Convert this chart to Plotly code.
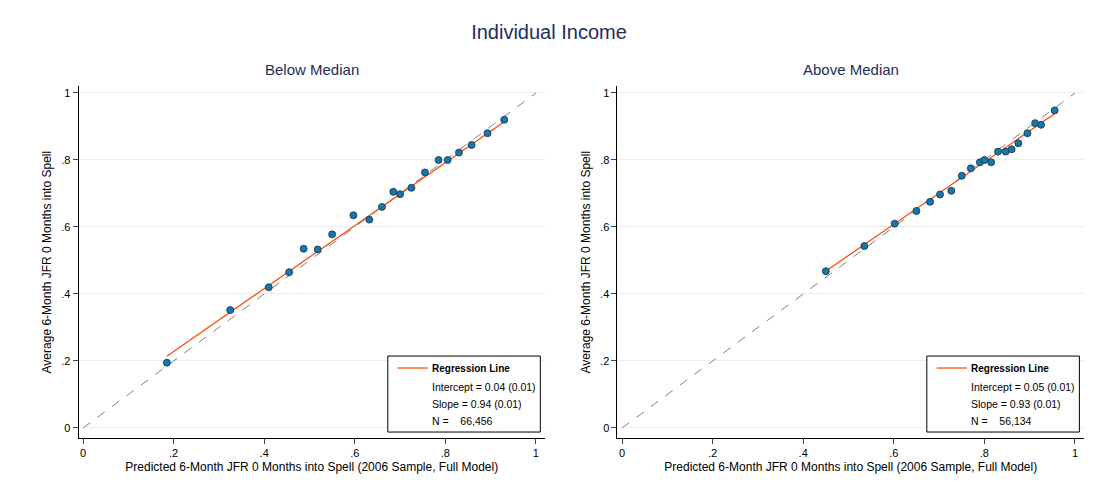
import plotly.graph_objects as go

below_x = [0.185, 0.325, 0.41, 0.455, 0.487, 0.518, 0.55, 0.597, 0.632, 0.66,
           0.685, 0.70, 0.725, 0.755, 0.785, 0.805, 0.83, 0.858, 0.893, 0.93]
below_y = [0.195, 0.352, 0.42, 0.465, 0.535, 0.533, 0.578, 0.635, 0.622, 0.66,
           0.705, 0.698, 0.717, 0.763, 0.80, 0.80, 0.822, 0.845, 0.88, 0.92]
above_x = [0.45, 0.535, 0.602, 0.65, 0.68, 0.702, 0.727, 0.75, 0.77, 0.79,
           0.80, 0.815, 0.83, 0.847, 0.86, 0.875, 0.895, 0.912, 0.925, 0.955]
above_y = [0.468, 0.543, 0.61, 0.648, 0.675, 0.697, 0.708, 0.753, 0.775, 0.793,
           0.80, 0.793, 0.825, 0.825, 0.832, 0.85, 0.88, 0.91, 0.905, 0.948]

panels = [
    dict(title="Below Median", x=below_x, y=below_y, icpt=0.04, slope=0.94,
         stats=["Intercept = 0.04 (0.01)", "Slope = 0.94 (0.01)", "N =    66,456"]),
    dict(title="Above Median", x=above_x, y=above_y, icpt=0.05, slope=0.93,
         stats=["Intercept = 0.05 (0.01)", "Slope = 0.93 (0.01)", "N =    56,134"]),
]
tickvals = [0, 0.2, 0.4, 0.6, 0.8, 1]
ticktext = ["0", ".2", ".4", ".6", ".8", "1"]

fig = go.Figure()
xdomains = [[0.0652, 0.4963], [0.5633, 0.9945]]
ydomain = [0.1152, 0.8389]
font = "Liberation Sans, Arial, sans-serif"

for i, p in enumerate(panels):
    ax = "" if i == 0 else "2"
    fig.add_trace(go.Scatter(x=[0, 1], y=[0, 1], mode="lines",
                             line=dict(color="#808080", width=1, dash="dash"),
                             xaxis="x" + ax, yaxis="y" + ax, showlegend=False))
    x0, x1 = min(p["x"]), max(p["x"])
    fig.add_trace(go.Scatter(x=[x0, x1], y=[p["icpt"] + p["slope"] * x0, p["icpt"] + p["slope"] * x1],
                             mode="lines", line=dict(color="#ff4500", width=1.2),
                             xaxis="x" + ax, yaxis="y" + ax, showlegend=False))
    fig.add_trace(go.Scatter(x=p["x"], y=p["y"], mode="markers",
                             marker=dict(color="#1a76a8", size=7, line=dict(color="#0d3550", width=0.8)),
                             xaxis="x" + ax, yaxis="y" + ax, showlegend=False))

    axis_common = dict(range=[-0.01, 1.02], tickvals=tickvals, ticktext=ticktext,
                       ticks="outside", ticklen=5, showline=True, linecolor="black",
                       tickfont=dict(size=11, color="black"), zeroline=False)
    fig.layout["xaxis" + ax] = dict(axis_common, domain=xdomains[i], anchor="y" + ax, showgrid=False,
                                    title=dict(text="Predicted 6-Month JFR 0 Months into Spell (2006 Sample, Full Model)",
                                               font=dict(size=12, color="black"), standoff=4))
    fig.layout["yaxis" + ax] = dict(axis_common, range=[-0.03, 1.02], domain=ydomain, anchor="x" + ax,
                                    showgrid=True, gridcolor="#e8eef2",
                                    title=dict(text="Average 6-Month JFR 0 Months into Spell",
                                               font=dict(size=12, color="black"), standoff=6))
    fig.add_annotation(text=p["title"], x=sum(xdomains[i]) / 2, y=0.852, xref="paper", yref="paper",
                       xanchor="center", yanchor="bottom", showarrow=False,
                       font=dict(size=15, color="#1f2d5a"))

    # legend box
    xr, yr = "x" + ax + " domain", "y" + ax + " domain"
    fig.add_shape(type="rect", xref=xr, yref=yr, x0=0.663, x1=0.99, y0=0.017, y1=0.233,
                  line=dict(color="black", width=1), fillcolor="white", layer="above")
    fig.add_shape(type="line", xref=xr, yref=yr, x0=0.684, x1=0.749, y0=0.199, y1=0.199,
                  line=dict(color="#ff4500", width=1.2), layer="above")
    fig.add_annotation(text="<b>Regression Line</b>", xref=xr, yref=yr, x=0.753, y=0.199,
                       xanchor="left", yanchor="middle", showarrow=False, font=dict(size=10, color="black"))
    for k, s in enumerate(p["stats"]):
        fig.add_annotation(text=s, xref=xr, yref=yr, x=0.753, y=0.145 - k * 0.048,
                           xanchor="left", yanchor="middle", showarrow=False, font=dict(size=10.5, color="black"))

fig.update_layout(
    width=1082, height=486, margin=dict(l=0, r=0, t=0, b=0),
    paper_bgcolor="white", plot_bgcolor="white", font=dict(family=font),
    title=dict(text="Individual Income", x=0.5, xanchor="center", y=0.951, yanchor="middle",
               font=dict(size=20, color="#1f2d5a")),
)

fig.write_html("out.html")
